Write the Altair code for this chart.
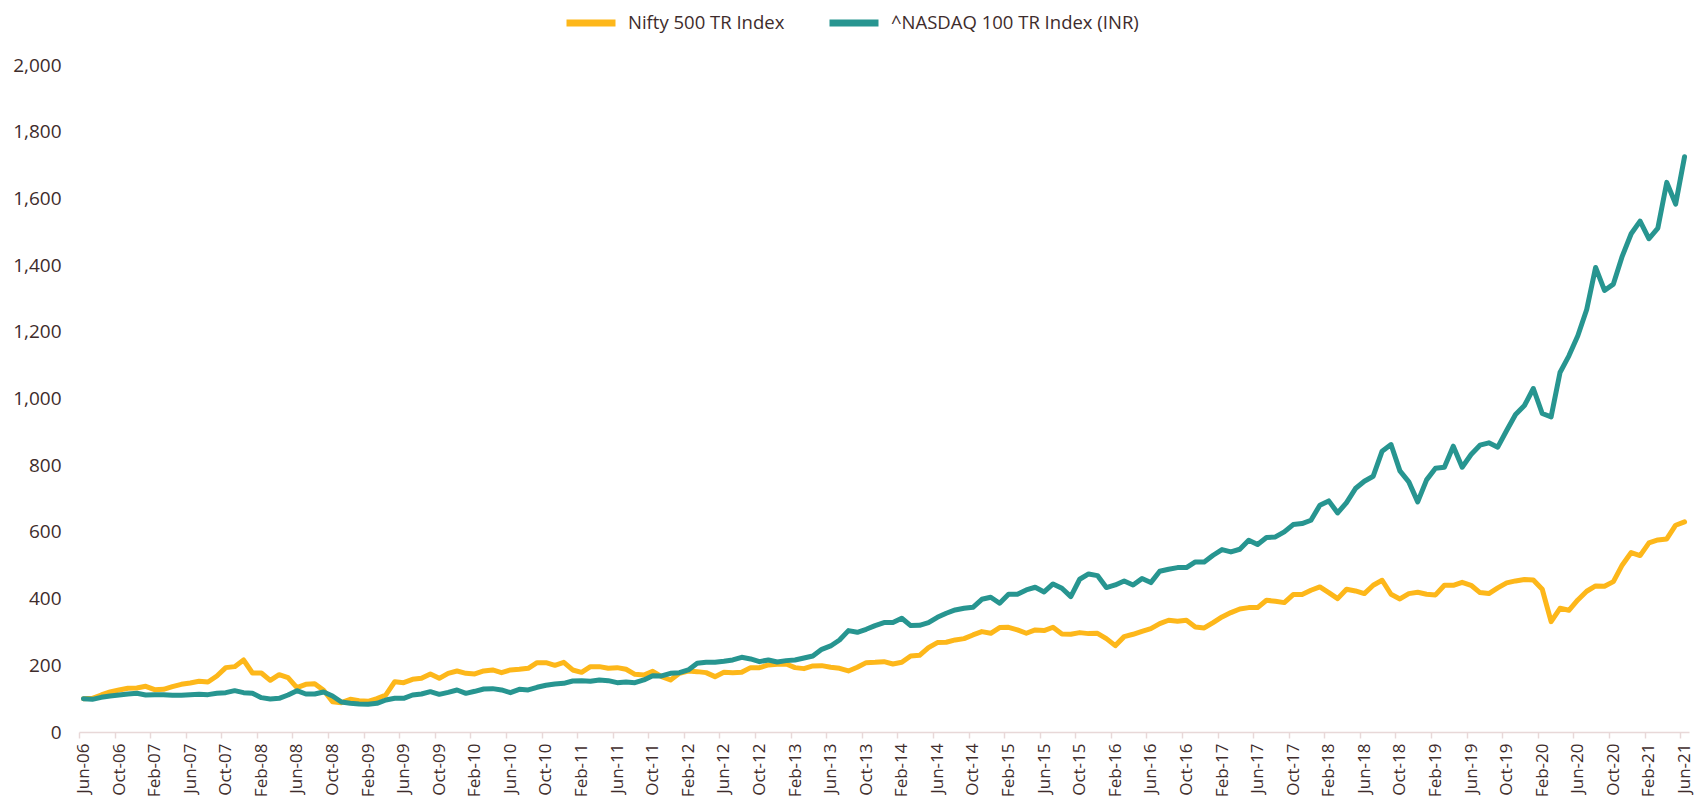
import altair as alt
import pandas as pd

# Month labels Jun-06 ... Jun-21 (monthly)
months = pd.date_range("2006-06-01", periods=181, freq="MS").strftime("%b-%y").tolist()
tick_labels = months[::4]

series_names = ["Nifty 500 TR Index", "^NASDAQ 100 TR Index (INR)"]
series_colors = ["#FDB71A", "#279590"]

nifty = [
    100, 101, 111, 120, 126, 131, 132, 137, 127, 128, 136, 143, 147, 152, 150, 168,
    193, 196, 216, 177, 177, 155, 172, 163, 133, 143, 145, 125, 91, 88, 98, 94,
    92, 100, 111, 151, 148, 158, 161, 174, 161, 176, 183, 176, 174, 183, 186, 178,
    186, 188, 191, 208, 208, 200, 209, 186, 179, 196, 196, 191, 193, 188, 173, 171,
    182, 166, 156, 176, 183, 181, 178, 166, 179, 178, 179, 193, 193, 201, 203, 204,
    193, 190, 198, 199, 194, 191, 183, 194, 208, 209, 211, 204, 209, 228, 230, 253,
    268, 269, 276, 280, 291, 301, 296, 313, 314, 306, 296, 306, 304, 314, 294, 293,
    298, 295, 296, 280, 259, 286, 293, 302, 310, 325, 335, 332, 335, 315, 312, 328,
    345, 358, 369, 373, 373, 395, 392, 388, 412, 412, 425, 435, 418, 400, 428, 423,
    415, 440, 455, 413, 399, 415, 419, 413, 411, 440, 440, 449, 440, 418, 415, 432,
    447, 453, 457, 456, 428, 331, 371, 365, 396, 422, 438, 437, 451, 501, 538, 529,
    567, 576, 579, 620, 630,
]

nasdaq = [
    100, 98, 104, 108, 111, 114, 116, 111, 112, 112, 110, 110, 112, 113, 112, 116,
    118, 124, 118, 116, 103, 99, 101, 111, 124, 114, 114, 120, 108, 90, 86, 84,
    83, 86, 96, 101, 101, 111, 114, 121, 113, 119, 126, 116, 122, 129, 130, 126,
    118, 128, 126, 134, 140, 144, 146, 153, 154, 152, 156, 154, 148, 150, 148, 156,
    169, 168, 176, 178, 186, 206, 209, 209, 212, 216, 224, 219, 211, 216, 210, 214,
    216, 222, 228, 248, 258, 276, 304, 299, 308, 319, 328, 328, 341, 319, 320, 328,
    344, 356, 366, 371, 374, 398, 404, 386, 413, 413, 426, 434, 420, 444, 431, 406,
    458, 474, 469, 433, 441, 453, 441, 460, 448, 482, 488, 493, 493, 510, 510, 530,
    547, 540, 548, 575, 562, 583, 585, 600, 622, 625, 635, 680, 693, 657, 688, 730,
    752, 767, 842, 862, 783, 750, 690, 756, 791, 794, 857, 794, 832, 860, 867, 854,
    904, 952, 979, 1030, 955, 945, 1078, 1128, 1188, 1267, 1393, 1324, 1343, 1427, 1494, 1532,
    1479, 1511, 1648, 1583, 1725,
]

y_ticks = list(range(0, 2001, 200))

df = pd.DataFrame({
    "month": months + months,
    "series": [series_names[0]] * len(nifty) + [series_names[1]] * len(nasdaq),
    "value": nifty + nasdaq,
})

FONT = "Open Sans"
TXT = "#3E2C2C"
PLOT_W = 1610
PLOT_H = 667
step = PLOT_W / len(months)

chart = alt.Chart(df).mark_line(
    strokeWidth=5, strokeCap="round", strokeJoin="round"
).encode(
    x=alt.X(
        "month:O",
        sort=months,
        scale=alt.Scale(type="point", padding=0.5),
        axis=alt.Axis(
            title=None,
            values=tick_labels,
            labelAngle=270,
            labelFont=FONT,
            labelFontSize=17,
            labelColor=TXT,
            labelPadding=5,
            tickSize=6,
            tickColor="#E8D8D8",
            tickWidth=1.5,
            domainColor="#E8D8D8",
            domainWidth=1.5,
            tickOffset=-step / 2,
            labelOffset=step / 2,
            grid=False,
            labelOverlap=False,
        ),
    ),
    y=alt.Y(
        "value:Q",
        scale=alt.Scale(domain=[0, 2000], nice=False, zero=True),
        axis=alt.Axis(
            title=None,
            values=y_ticks,
            format=",.0f",
            labelFont=FONT,
            labelFontSize=19,
            labelColor=TXT,
            labelPadding=18,
            ticks=False,
            domain=False,
            grid=False,
        ),
    ),
    color=alt.Color(
        "series:N",
        sort=series_names,
        scale=alt.Scale(domain=series_names, range=series_colors),
        legend=alt.Legend(
            title=None,
            orient="none",
            direction="horizontal",
            legendX=484,
            legendY=-70,
            symbolType="stroke",
            symbolSize=2400,
            symbolStrokeWidth=7,
            labelFont=FONT,
            labelFontSize=18.5,
            labelColor=TXT,
            labelOffset=9,
            labelLimit=500,
            columnPadding=30,
        ),
    ),
).properties(
    width=PLOT_W,
    height=PLOT_H,
    autosize=alt.AutoSizeParams(type="none"),
    padding={"left": 71, "top": 57, "right": 5, "bottom": 67},
).configure_view(strokeWidth=0)

chart.save("out.html", embed_options={"renderer": "svg", "actions": False})
